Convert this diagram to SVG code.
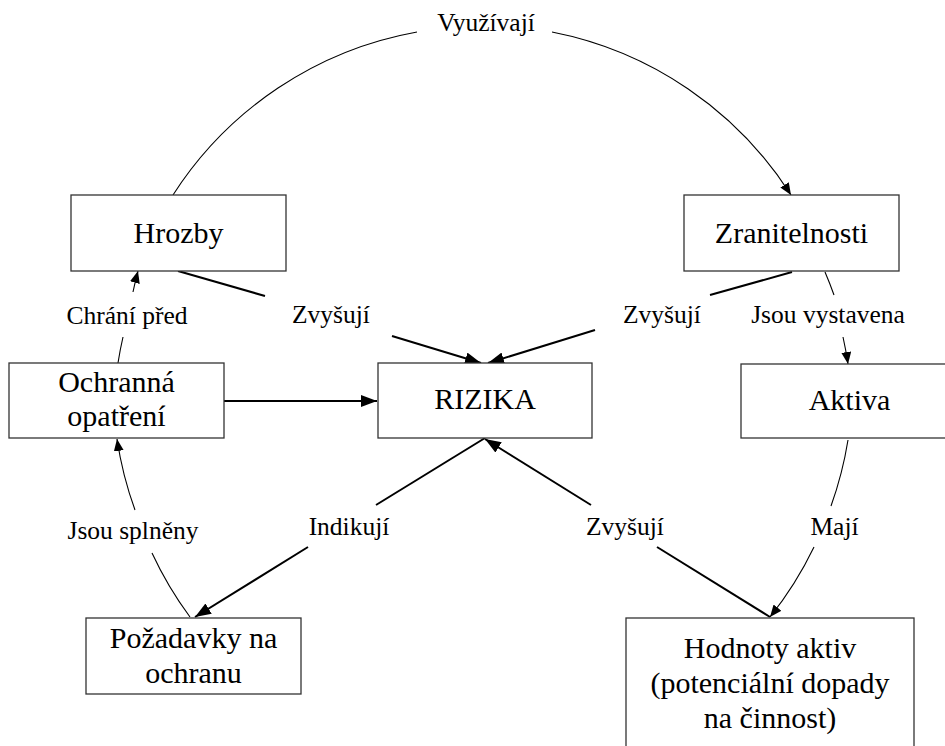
<svg xmlns="http://www.w3.org/2000/svg" width="945" height="746" viewBox="0 0 945 746">
<style>
.box{fill:#fff;stroke:#333;stroke-width:1.3}
text{font-family:"Liberation Serif",Tinos,"Times New Roman",Times,"Nimbus Roman","Nimbus Roman No9 L","FreeSerif","Noto Serif","DejaVu Serif",serif;fill:#000;text-anchor:middle}
.nt{font-size:30px}
.lb{font-size:25.5px}
.thin{fill:none;stroke:#000;stroke-width:1.1}
.thick{fill:none;stroke:#000;stroke-width:2}
</style>
<defs>
<marker id="as" viewBox="0 0 12 10" refX="12" refY="5" markerWidth="12" markerHeight="10" markerUnits="userSpaceOnUse" orient="auto"><path d="M0,0 L12,5 L0,10 z" fill="#000"/></marker>
<marker id="al" viewBox="0 0 16 12" refX="16" refY="6" markerWidth="16" markerHeight="12" markerUnits="userSpaceOnUse" orient="auto"><path d="M0,0 L16,6 L0,12 z" fill="#000"/></marker>
</defs>
<rect width="945" height="746" fill="#fff"/>
<g id="connectors">
<path class="thin" d="M173,195 A367,367 0 0 1 417,32"/>
<path class="thin" d="M552,32 A367,367 0 0 1 791,195" marker-end="url(#as)"/>
<path class="thin" d="M825,272 A367,367 0 0 1 834,295"/>
<path class="thin" d="M843,337 A367,367 0 0 1 848,364" marker-end="url(#as)"/>
<path class="thin" d="M848,440 A367,367 0 0 1 831,506"/>
<path class="thin" d="M814,547 A367,367 0 0 1 770,617" marker-end="url(#as)"/>
<path class="thin" d="M190,617 A367,367 0 0 1 152,553"/>
<path class="thin" d="M135,510 A367,367 0 0 1 117,439" marker-end="url(#as)"/>
<path class="thin" d="M118,363 A367,367 0 0 1 123,337"/>
<path class="thin" d="M133,292 A367,367 0 0 1 138,271" marker-end="url(#as)"/>
<path class="thick" d="M178,271 L265,296"/>
<path class="thick" d="M392,336 L481,363" marker-end="url(#al)"/>
<path class="thick" d="M792,272 L710,295"/>
<path class="thick" d="M595,330 L488,363" marker-end="url(#al)"/>
<path class="thick" d="M224,401 L377,401" marker-end="url(#al)"/>
<path class="thick" d="M485,438 L376,505"/>
<path class="thick" d="M308,547 L195,617" marker-end="url(#al)"/>
<path class="thick" d="M770,617 L657,547"/>
<path class="thick" d="M591,505 L485,439" marker-end="url(#al)"/>
<text class="lb" x="486" y="31">Využívají</text>
<text class="lb" x="331" y="323">Zvyšují</text>
<text class="lb" x="662" y="323">Zvyšují</text>
<text class="lb" x="828" y="323">Jsou vystavena</text>
<text class="lb" x="127" y="324">Chrání před</text>
<text class="lb" x="133" y="539">Jsou splněny</text>
<text class="lb" x="349" y="535">Indikují</text>
<text class="lb" x="625" y="535">Zvyšují</text>
<text class="lb" x="834.5" y="535">Mají</text>
</g>
<g id="hrozby"><rect class="box" x="71" y="195" width="215" height="76"/><text class="nt" x="178.5" y="243">Hrozby</text></g>
<g id="zranitelnosti"><rect class="box" x="684" y="195" width="215" height="76"/><text class="nt" x="791.5" y="243">Zranitelnosti</text></g>
<g id="rizika"><rect class="box" x="378" y="363" width="214" height="75"/><text class="nt" x="485" y="409">RIZIKA</text></g>
<g id="ochranna"><rect class="box" x="9" y="363" width="215" height="75"/><text class="nt" x="116.5" y="392">Ochranná</text><text class="nt" x="116.5" y="426">opatření</text></g>
<g id="aktiva"><rect class="box" x="741" y="364" width="217" height="74"/><text class="nt" x="849.5" y="410">Aktiva</text></g>
<g id="pozadavky"><rect class="box" x="86" y="618" width="215" height="76"/><text class="nt" x="193.5" y="648">Požadavky na</text><text class="nt" x="193.5" y="683">ochranu</text></g>
<g id="hodnoty"><rect class="box" x="626" y="618" width="288" height="150"/><text class="nt" x="770" y="657.5">Hodnoty aktiv</text><text class="nt" x="770" y="693">(potenciální dopady</text><text class="nt" x="770" y="728">na činnost)</text></g>
</svg>
